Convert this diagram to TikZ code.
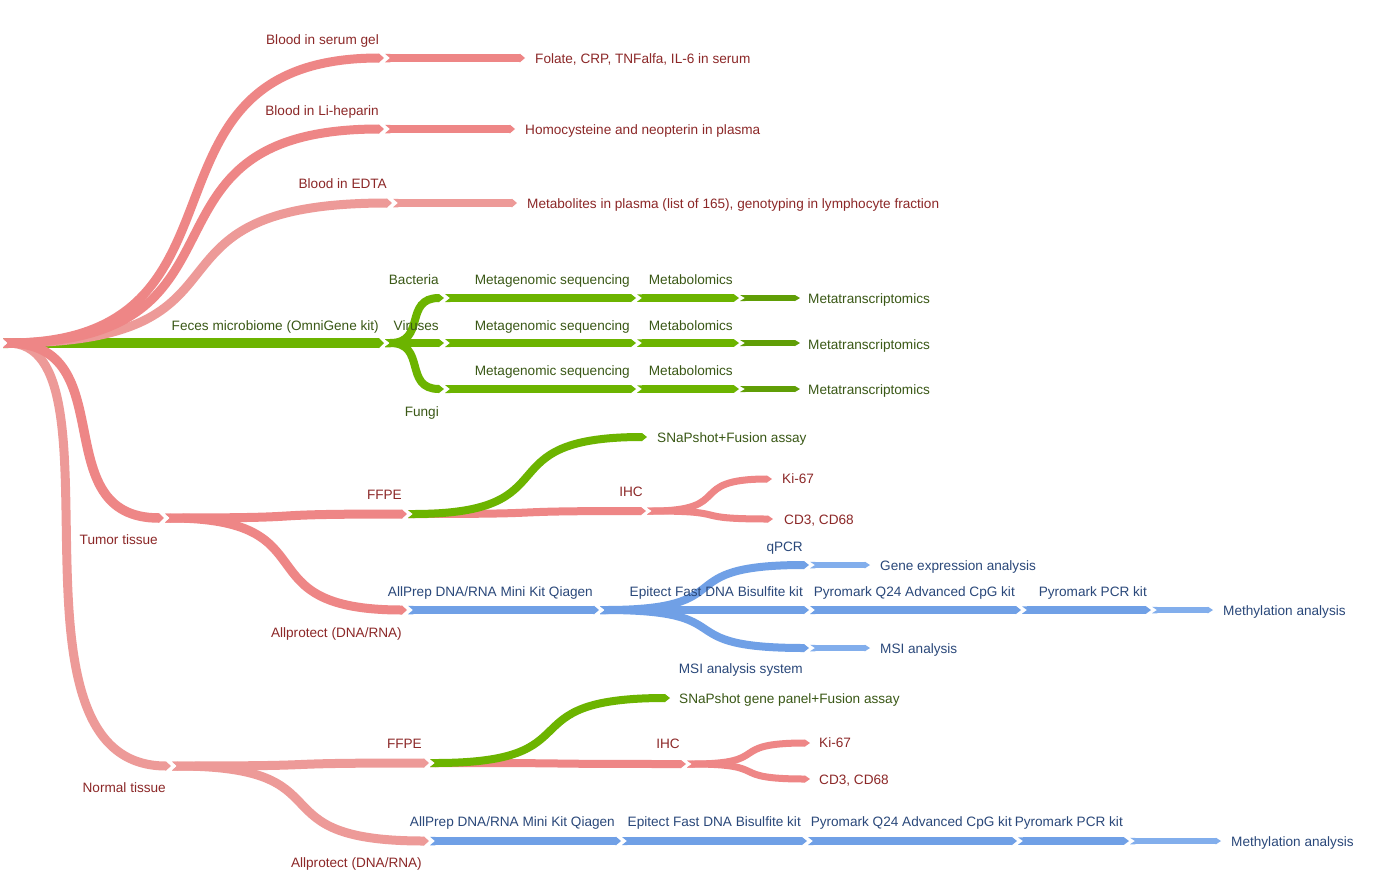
\documentclass[tikz,border=0pt]{standalone}
\usepackage{fontspec}
\setmainfont{Liberation Sans}
\usetikzlibrary{calc}
\definecolor{pkA}{RGB}{238,134,134}
\definecolor{pkB}{RGB}{237,154,152}
\definecolor{gr}{RGB}{108,180,0}
\definecolor{grD}{RGB}{96,158,6}
\definecolor{bl}{RGB}{112,160,230}
\definecolor{blL}{RGB}{130,174,236}
\definecolor{txr}{RGB}{140,40,40}
\definecolor{txg}{RGB}{58,88,22}
\definecolor{txb}{RGB}{42,72,122}
\def\chv{5pt}
\def\gp{1pt}
% general ribbon: {from}{to}{colour}{width}{control-1 x}{control-2 x}
\newcommand\ribgen[6]{%
 \draw[draw=#3,line width=#4pt] let \p1=(#1),\p2=(#2) in
   ({\x1+\chv},\y1) .. controls ({#5},\y1) and ({#6},\y2) .. ({\x2-\chv-\gp},\y2);
 \fill[#3] let \p1=(#1),\p2=(#2) in
   (\x1,{\y1+0.5*#4pt}) -- ({\x1+\chv+0.4pt},{\y1+0.5*#4pt}) -- ({\x1+\chv+0.4pt},{\y1-0.5*#4pt}) -- (\x1,{\y1-0.5*#4pt}) -- ({\x1+\chv},\y1) -- cycle
   ({\x2-\chv-\gp-0.4pt},{\y2+0.5*#4pt}) -- ({\x2-\chv-\gp},{\y2+0.5*#4pt}) -- ({\x2-\gp},\y2) -- ({\x2-\chv-\gp},{\y2-0.5*#4pt}) -- ({\x2-\chv-\gp-0.4pt},{\y2-0.5*#4pt}) -- cycle;
}
% ribbon with symmetric controls: [fraction]{from}{to}{colour}{width}
\newcommand\rib[5][0.7]{\ribgen{#2}{#3}{#4}{#5}{\x1+#1*(\x2-\x1)}{\x2-#1*(\x2-\x1)}}
\begin{document}
\begin{tikzpicture}[x=1pt,y=-1pt,
  lab/.style={font=\fontsize{13.6}{16}\selectfont, inner sep=0pt},
  rl/.style={lab, text=txr, anchor=base east},
  gl/.style={lab, text=txg, anchor=base east},
  bll/.style={lab, text=txb, anchor=base east},
  rleaf/.style={lab, text=txr, anchor=base west},
  gleaf/.style={lab, text=txg, anchor=base west},
  bleaf/.style={lab, text=txb, anchor=base west}]
\useasboundingbox[fill=white] (0,0) rectangle (1382,876);
% ---- coordinates
\coordinate (R) at (3,343);
\coordinate (S1) at (385,58);   \coordinate (L1) at (526,58);
\coordinate (S2) at (385,129);  \coordinate (L2) at (516,129);
\coordinate (S3) at (393,203);  \coordinate (L3) at (518,203);
\coordinate (F) at (385,343);
\coordinate (B) at (445,298); \coordinate (MgB) at (637,298); \coordinate (MbB) at (740,298); \coordinate (MtB) at (801,298);
\coordinate (V) at (445,343); \coordinate (MgV) at (637,343); \coordinate (MbV) at (740,343); \coordinate (MtV) at (801,343);
\coordinate (Fu) at (445,389); \coordinate (MgF) at (637,389); \coordinate (MbF) at (740,389); \coordinate (MtF) at (801,389);
\coordinate (T) at (165,518);
\coordinate (TF) at (408,514); \coordinate (TS) at (648,437); \coordinate (TI) at (647,511);
\coordinate (TK) at (773,479); \coordinate (TC) at (774,519);
\coordinate (TA) at (408,610); \coordinate (TP) at (600,610);
\coordinate (TQ) at (810,565); \coordinate (TG) at (871,565);
\coordinate (TE) at (810,610); \coordinate (TQ24) at (1022,610); \coordinate (TPCR) at (1152,610); \coordinate (TM) at (1214,610);
\coordinate (TMS) at (810,648); \coordinate (TMSI) at (871,648);
\coordinate (N) at (172,766);
\coordinate (NF) at (430,763); \coordinate (NS) at (671,698); \coordinate (NI) at (687,764);
\coordinate (NK) at (811,743); \coordinate (NC) at (811,779);
\coordinate (NA) at (430,841); \coordinate (NP) at (622,841); \coordinate (NE) at (808,841);
\coordinate (NQ) at (1018,841); \coordinate (NPCR) at (1130,841); \coordinate (NM) at (1222,841);
% ---- ribbons
\rib{R}{F}{gr}{10}
\rib{F}{B}{gr}{8} \rib{F}{V}{gr}{8} \rib{F}{Fu}{gr}{8}
\rib{B}{MgB}{gr}{8} \rib{MgB}{MbB}{gr}{7.5} \rib{MbB}{MtB}{grD}{6}
\rib{V}{MgV}{gr}{8} \rib{MgV}{MbV}{gr}{7.5} \rib{MbV}{MtV}{grD}{6}
\rib{Fu}{MgF}{gr}{8} \rib{MgF}{MbF}{gr}{7.5} \rib{MbF}{MtF}{grD}{6}
\rib{R}{S3}{pkB}{9}
\rib{R}{S2}{pkA}{9}
\rib{R}{S1}{pkA}{9}
\rib{S1}{L1}{pkA}{8.5} \rib{S2}{L2}{pkA}{8.5} \rib{S3}{L3}{pkB}{8.5}
\ribgen{R}{N}{pkB}{9}{130pt}{-10pt}
\rib[0.75]{R}{T}{pkA}{9.5}
% tumour
\rib{T}{TA}{pkA}{9}
\rib{T}{TF}{pkA}{9}
\rib{TF}{TI}{pkA}{8}
\rib{TF}{TS}{gr}{8}
\rib{TI}{TK}{pkA}{7} \rib{TI}{TC}{pkA}{7}
\rib{TA}{TP}{bl}{8.5}
\rib{TP}{TQ}{bl}{8} \rib{TP}{TE}{bl}{8} \rib{TP}{TMS}{bl}{8}
\rib{TQ}{TG}{blL}{6.5} \rib{TMS}{TMSI}{blL}{6.5}
\rib{TE}{TQ24}{bl}{8} \rib{TQ24}{TPCR}{bl}{7.5} \rib{TPCR}{TM}{blL}{6.5}
% normal
\rib{N}{NA}{pkB}{9}
\rib{N}{NF}{pkB}{9}
\rib{NF}{NI}{pkA}{8}
\rib{NF}{NS}{gr}{8}
\rib{NI}{NK}{pkA}{7} \rib{NI}{NC}{pkA}{7}
\rib{NA}{NP}{bl}{8.5} \rib{NP}{NE}{bl}{8} \rib{NE}{NQ}{bl}{8} \rib{NQ}{NPCR}{bl}{7.5} \rib{NPCR}{NM}{blL}{6.5}
% ---- labels
\node[rl] (tS1) at (379,44) {Blood in serum gel};
\node[rl] (tS2) at (379,115) {Blood in Li-heparin};
\node[rl] (tS3) at (387,188) {Blood in EDTA};
\node[rleaf] (tL1) at (535,63) {Folate, CRP, TNFalfa, IL-6 in serum};
\node[rleaf] (tL2) at (525,134) {Homocysteine and neopterin in plasma};
\node[rleaf] (tL3) at (527,208) {Metabolites in plasma (list of 165), genotyping in lymphocyte fraction};
\node[gl] (tF) at (379,330) {Feces microbiome (OmniGene kit)};
\node[gl] (tB) at (439,284) {Bacteria};
\node[gl] (tV) at (439,330) {Viruses};
\node[gl] (tFu) at (439,416) {Fungi};
\node[gl] (tMgB) at (630,284) {Metagenomic sequencing};
\node[gl] (tMgV) at (630,330) {Metagenomic sequencing};
\node[gl] (tMgF) at (630,375) {Metagenomic sequencing};
\node[gl] (tMbB) at (733,284) {Metabolomics};
\node[gl] (tMbV) at (733,330) {Metabolomics};
\node[gl] (tMbF) at (733,375) {Metabolomics};
\node[gleaf] (tMtB) at (808,303) {Metatranscriptomics};
\node[gleaf] (tMtV) at (808,349) {Metatranscriptomics};
\node[gleaf] (tMtF) at (808,394) {Metatranscriptomics};
\node[rl] (tT) at (158,544) {Tumor tissue};
\node[rl] (tTF) at (402,499) {FFPE};
\node[gleaf] (tTS) at (657,442) {SNaPshot+Fusion assay};
\node[rl] (tTI) at (643,496) {IHC};
\node[rleaf] (tTK) at (782,483) {Ki-67};
\node[rleaf] (tTC) at (784,524) {CD3, CD68};
\node[rl] (tTA) at (402,637) {Allprotect (DNA/RNA)};
\node[bll] (tTP) at (593,596) {AllPrep DNA/RNA Mini Kit Qiagen};
\node[bll] (tTQ) at (803,551) {qPCR};
\node[bll] (tTE) at (803,596) {Epitect Fast DNA Bisulfite kit};
\node[bll] (tTMS) at (803,673) {MSI analysis system};
\node[bleaf] (tTG) at (880,570) {Gene expression analysis};
\node[bleaf] (tTMSI) at (880,653) {MSI analysis};
\node[bll] (tTQ24) at (1015,596) {Pyromark Q24 Advanced CpG kit};
\node[bll] (tTPCR) at (1147,596) {Pyromark PCR kit};
\node[bleaf] (tTM) at (1223,615) {Methylation analysis};
\node[rl] (tN) at (166,792) {Normal tissue};
\node[rl] (tNF) at (422,748) {FFPE};
\node[gleaf] (tNS) at (679,703) {SNaPshot gene panel+Fusion assay};
\node[rl] (tNI) at (680,748) {IHC};
\node[rleaf] (tNK) at (819,747) {Ki-67};
\node[rleaf] (tNC) at (819,784) {CD3, CD68};
\node[rl] (tNA) at (422,867) {Allprotect (DNA/RNA)};
\node[bll] (tNP) at (615,826) {AllPrep DNA/RNA Mini Kit Qiagen};
\node[bll] (tNE) at (801,826) {Epitect Fast DNA Bisulfite kit};
\node[bll] (tNQ) at (1012,826) {Pyromark Q24 Advanced CpG kit};
\node[bll] (tNPCR) at (1123,826) {Pyromark PCR kit};
\node[bleaf] (tNM) at (1231,846) {Methylation analysis};
\end{tikzpicture}
\end{document}
